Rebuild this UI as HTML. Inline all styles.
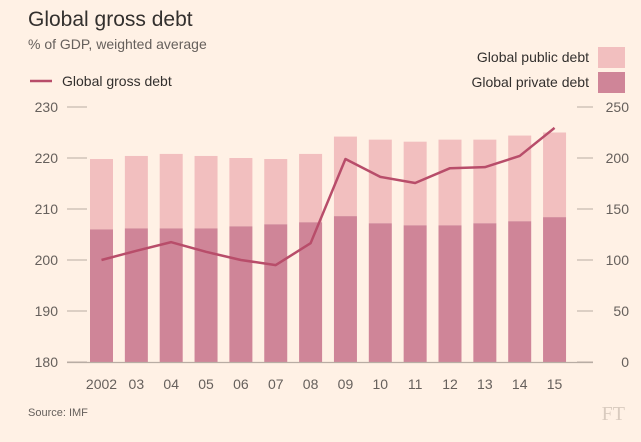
<!DOCTYPE html>
<html><head><meta charset="utf-8">
<style>
body{margin:0;background:#fff1e5;}
svg{display:block;font-family:"Liberation Sans",sans-serif;}
</style></head>
<body>
<svg width="641" height="442" viewBox="0 0 641 442">
<rect width="641" height="442" fill="#fff1e5"/>
<text x="28" y="26" font-size="21" fill="#33302e">Global gross debt</text>
<text x="28" y="49" font-size="14" fill="#66605c">% of GDP, weighted average</text>
<g>
<line x1="30" y1="81" x2="52" y2="81" stroke="#b84d6a" stroke-width="2.5"/>
<text x="62" y="86" font-size="14" fill="#33302e">Global gross debt</text>
<text x="589" y="62" font-size="14" fill="#33302e" text-anchor="end">Global public debt</text>
<rect x="598" y="47" width="27" height="21" fill="#f2bfbf"/>
<text x="589" y="87" font-size="14" fill="#33302e" text-anchor="end">Global private debt</text>
<rect x="598" y="72" width="27" height="21" fill="#cf8598"/>
</g>
<g id="grid"></g>
<g id="bars"></g>
<g id="line"></g>
<g id="axes"></g>
<text x="28" y="416" font-size="11" fill="#66605c">Source: IMF</text>
<text x="625" y="420" font-size="20" fill="#d9cbbf" text-anchor="end" font-family="Liberation Serif,serif">FT</text>
</svg>
<script>
const categories=["2002","03","04","05","06","07","08","09","10","11","12","13","14","15"];
const privateDebt=[130,131,131,131,133,135,137,143,136,134,134,136,138,142];
const totalDebt=[199,202,204,202,200,199,204,221,218,216,218,218,222,225];
const grossDebt=[200,201.8,203.5,201.6,200,199,203.3,219.8,216.3,215.1,218,218.2,220.4,225.9];
const leftTicks=[180,190,200,210,220,230];
const rightTicks=[0,50,100,150,200,250];
const NS="http://www.w3.org/2000/svg";
const plotTop=107,plotBottom=362,x0=101.5,step=34.85,bw=23;
const xS=i=>x0+i*step;
const yL=v=>plotBottom-(v-180)/50*(plotBottom-plotTop);
const yR=v=>plotBottom-v/250*(plotBottom-plotTop);
function mk(t,a,p){const e=document.createElementNS(NS,t);for(const k in a)e.setAttribute(k,a[k]);p.appendChild(e);return e;}
const grid=document.getElementById('grid'),bars=document.getElementById('bars'),line=document.getElementById('line'),axes=document.getElementById('axes');
leftTicks.forEach(v=>{
 const y=yL(v);
 const g=mk('line',{x1:67,x2:87,y1:y,y2:y,stroke:'#b8ada4','stroke-width':1},grid);
 
 
 const t=mk('text',{x:58,y:y+5,'font-size':14,fill:'#66605c','text-anchor':'end'},axes);t.textContent=v;
 
 
});
rightTicks.forEach(v=>{
 const y=yR(v);
 const g=mk('line',{x1:577,x2:593,y1:y,y2:y,stroke:'#b8ada4','stroke-width':1},grid);
 
 
 const t=mk('text',{x:629,y:y+5,'font-size':14,fill:'#66605c','text-anchor':'end'},axes);t.textContent=v;
 
 
});
const base=mk('line',{x1:67,x2:593,y1:plotBottom+0.5,y2:plotBottom+0.5,stroke:'#b8ada4','stroke-width':1.2},axes);


categories.forEach((c,i)=>{
 const x=xS(i)-bw/2;
 const pub=mk('rect',{x:x,y:yR(totalDebt[i]),width:bw,height:yR(privateDebt[i])-yR(totalDebt[i]),fill:'#f2bfbf'},bars);
 
 
 const pr=mk('rect',{x:x,y:yR(privateDebt[i]),width:bw,height:plotBottom-yR(privateDebt[i]),fill:'#cf8598'},bars);
 
 
 const t=mk('text',{x:xS(i),y:389,'font-size':14,fill:'#66605c','text-anchor':'middle'},axes);t.textContent=c;
 
 
});
const pts=grossDebt.map((v,i)=>xS(i)+','+yL(v)).join(' ');
const pl=mk('polyline',{points:pts,fill:'none',stroke:'#b84d6a','stroke-width':2.5,'stroke-linejoin':'round'},line);


</script>
</body></html>
